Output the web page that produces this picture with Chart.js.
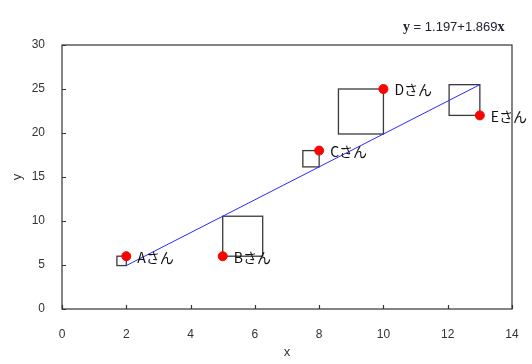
<!DOCTYPE html>
<html>
<head>
<meta charset="utf-8">
<script src="https://cdn.jsdelivr.net/npm/chart.js@4.4.0/dist/chart.umd.min.js"></script>
<style>
  html, body { margin: 0; padding: 0; background: #fff; }
  #wrap { width: 532px; height: 364px; }
</style>
</head>
<body>
<div id="wrap"><canvas id="c" width="532" height="364"></canvas></div>
<script>
// data
const names = ['Aさん', 'Bさん', 'Cさん', 'Dさん', 'Eさん'];
const xs = [2, 5, 8, 10, 13];
const ys = [6, 6, 18, 25, 22];
// regression coefficients shown in the chart
const intercept = 1.197;
const slope = 1.869;
// which side of the point each residual square sits on (-1 left, 1 right)
const squareSide = [-1, 1, -1, -1, -1];
const xTicks = [0, 2, 4, 6, 8, 10, 12, 14];
const yTicks = [0, 5, 10, 15, 20, 25, 30];

const points = xs.map((x, i) => ({ x: x, y: ys[i] }));
const xMin = Math.min(...xs), xMax = Math.max(...xs);
const fitLine = [
    { x: xMin, y: intercept + slope * xMin },
    { x: xMax, y: intercept + slope * xMax }
];

// residual squares, inward ticks, frame, labels and equation
const decorPlugin = {
    id: 'decor',
    beforeDatasetsDraw(chart) {
        const ctx = chart.ctx;
        const sx = chart.scales.x, sy = chart.scales.y;
        ctx.save();
        ctx.strokeStyle = '#3a3a3a';
        ctx.lineWidth = 1.3;
        xs.forEach((x, i) => {
            const px = sx.getPixelForValue(x);
            const py = sy.getPixelForValue(ys[i]);
            const pf = sy.getPixelForValue(intercept + slope * x);
            const side = Math.abs(py - pf);
            const left = squareSide[i] < 0 ? px - side : px;
            ctx.strokeRect(left, Math.min(py, pf), side, side);
        });
        ctx.restore();
    },
    afterDatasetsDraw(chart) {
        const ctx = chart.ctx;
        const a = chart.chartArea;
        const sx = chart.scales.x, sy = chart.scales.y;
        ctx.save();
        // frame
        ctx.strokeStyle = '#333';
        ctx.lineWidth = 1.2;
        ctx.strokeRect(a.left, a.top, a.right - a.left, a.bottom - a.top);
        // inward ticks
        ctx.beginPath();
        xTicks.forEach(v => {
            const p = Math.round(sx.getPixelForValue(v)) + 0.5;
            ctx.moveTo(p, a.bottom);
            ctx.lineTo(p, a.bottom - 4);
        });
        yTicks.forEach(v => {
            const p = Math.round(sy.getPixelForValue(v)) + 0.5;
            ctx.moveTo(a.left, p);
            ctx.lineTo(a.left + 4, p);
        });
        ctx.stroke();
        // point labels
        ctx.fillStyle = '#111';
        ctx.font = '14px "Noto Sans CJK JP", sans-serif';
        ctx.textBaseline = 'middle';
        ctx.textAlign = 'left';
        xs.forEach((x, i) => {
            ctx.fillText(names[i], sx.getPixelForValue(x) + 11, sy.getPixelForValue(ys[i]) + 1);
        });
        // equation
        ctx.textBaseline = 'alphabetic';
        let tx = 403;
        const ty = 31;
        ctx.fillStyle = '#223';
        ctx.font = 'bold 14px "Liberation Serif", serif';
        ctx.fillText('y', tx, ty);
        tx += ctx.measureText('y').width;
        ctx.font = '13px "Liberation Sans", sans-serif';
        const mid = ' = ' + intercept + '+' + slope;
        ctx.fillText(mid, tx, ty);
        tx += ctx.measureText(mid).width;
        ctx.font = 'bold 14px "Liberation Serif", serif';
        ctx.fillText('x', tx, ty);
        ctx.restore();
    }
};

const tickFont = { family: '"Liberation Sans", sans-serif', size: 12 };

new Chart(document.getElementById('c'), {
    type: 'scatter',
    data: {
        datasets: [
            {
                label: 'fit',
                data: fitLine,
                showLine: true,
                borderColor: '#2a2aff',
                borderWidth: 1,
                pointRadius: 0,
                order: 2
            },
            {
                label: 'data',
                data: points,
                backgroundColor: '#ff0000',
                borderColor: '#ff0000',
                pointRadius: 4.5,
                order: 1
            }
        ]
    },
    plugins: [decorPlugin],
    options: {
        responsive: false,
        animation: false,
        layout: { padding: { left: 0, right: 20, top: 45, bottom: 0 } },
        plugins: { legend: { display: false }, tooltip: { enabled: false } },
        scales: {
            x: {
                type: 'linear',
                min: 0, max: 14,
                afterBuildTicks: s => { s.ticks = xTicks.map(v => ({ value: v })); },
                afterFit: s => { s.height = 55; },
                grid: { display: false },
                border: { display: false },
                ticks: { color: '#333', font: tickFont, padding: 10, maxRotation: 0 },
                title: { display: true, text: 'x', color: '#333', font: { family: '"Liberation Sans", sans-serif', size: 13 }, padding: { top: 4 } }
            },
            y: {
                type: 'linear',
                min: 0, max: 30,
                afterBuildTicks: s => { s.ticks = yTicks.map(v => ({ value: v })); },
                afterFit: s => { s.width = 62; },
                grid: { display: false },
                border: { display: false },
                ticks: { color: '#333', font: tickFont, padding: 9 },
                title: { display: true, text: 'y', color: '#333', font: { family: '"Liberation Sans", sans-serif', size: 13 }, padding: { top: 10, bottom: 2 } }
            }
        }
    }
});
</script>
</body>
</html>
